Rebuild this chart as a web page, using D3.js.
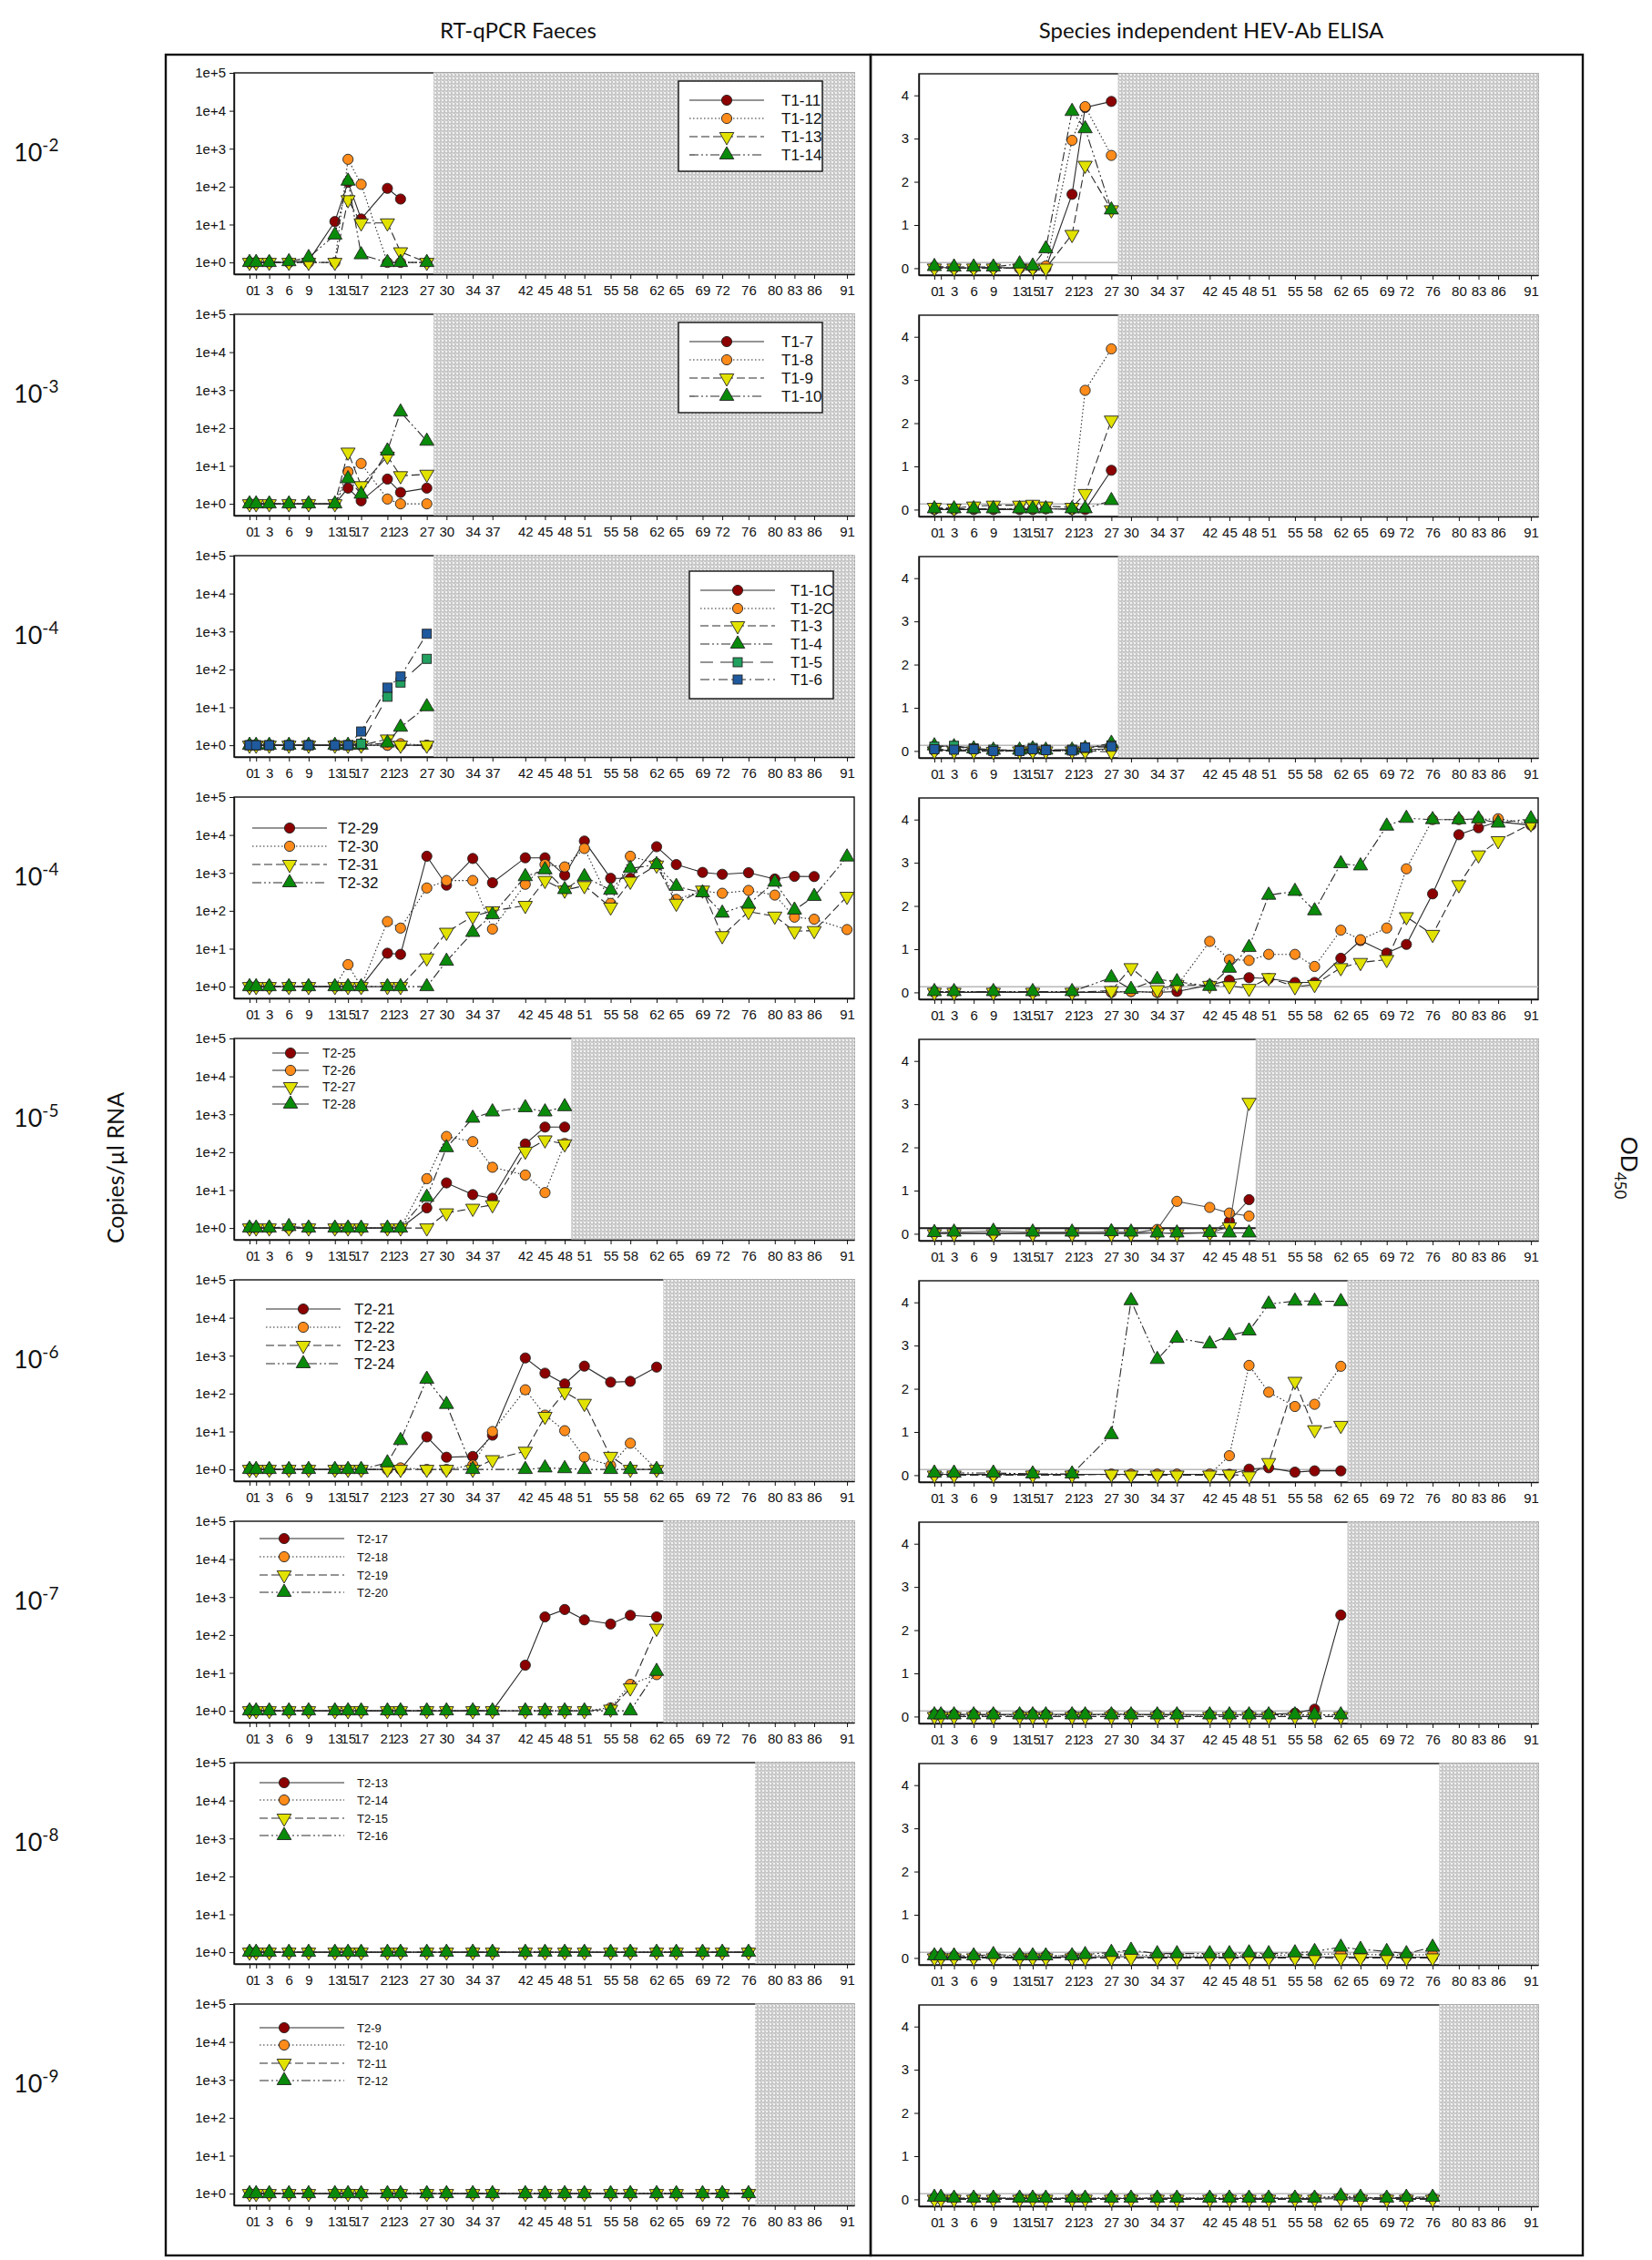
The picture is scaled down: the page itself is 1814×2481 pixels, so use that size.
<!DOCTYPE html>
<html><head><meta charset="utf-8">
<script src="https://cdn.jsdelivr.net/npm/d3@7"></script>
<style>
body{margin:0;background:#fff;}
svg text{fill:#111;}
.ax text{font-family:"Liberation Sans Narrow","Arial Narrow","Liberation Sans",sans-serif;font-size:15px;}
.lg text{font-family:"Liberation Sans Narrow","Arial Narrow","Liberation Sans",sans-serif;}
</style></head><body>
<svg id="c" width="1814" height="2481" xmlns="http://www.w3.org/2000/svg"></svg>
<script>
// ---------------- DATA ----------------
const days = [0,1,3,6,9,13,15,17,21,23,27,30,34,37,42,45,48,51,55,58,62,65,69,72,76,80,83,86,91];
const leftTicks = [1,10,100,1000,10000,100000];
const leftTickLabels = ["1e+0","1e+1","1e+2","1e+3","1e+4","1e+5"];
const rightTicks = [0,1,2,3,4];
const rowDilutions = ["-2","-3","-4","-4","-5","-6","-7","-8","-9"];
const hatchFrom = [28,28,28,null,49,63,63,77,77];

const names1 = ["T1-11","T1-12","T1-13","T1-14"];
const names2 = ["T1-7","T1-8","T1-9","T1-10"];
const names3 = ["T1-1C","T1-2C","T1-3","T1-4","T1-5","T1-6"];
const names4 = ["T2-29","T2-30","T2-31","T2-32"];
const names5 = ["T2-25","T2-26","T2-27","T2-28"];
const names6 = ["T2-21","T2-22","T2-23","T2-24"];
const names7 = ["T2-17","T2-18","T2-19","T2-20"];
const names8 = ["T2-13","T2-14","T2-15","T2-16"];
const names9 = ["T2-9","T2-10","T2-11","T2-12"];

// RT-qPCR copies/µl (values aligned with days; null = no sample)
const pcr1 = [
 [1,1,1,1,1.1,12,130,14,90,47,null],
 [1,1,1,1,1,1,525,115,1,1,1],
 [1,1,1,1,1,1,45,11,11,1.9,1],
 [1,1,1,1.05,1.35,5.3,140,1.6,1,1,1]];
const pcr2 = [
 [1,1,1,1,1,1,2.6,1.2,4.5,2.0,2.6],
 [1,1,1,1,1,1,7,11.6,1.34,1,1],
 [1,1,1,1,1,1,23,3.0,18,5.5,6],
 [1,1,1,1,1,1,4.6,1.8,25,265,45]];
const pcr3 = [
 [1,1,1,1,1,1,1,1,1,1,1],
 [1,1,1,1,1,1,1,1,1,1.1,1],
 [1,1,1,1,1,1,1,1,1.45,1,1],
 [1,1,1,1,1,1,1,1,1.15,3.0,10.4],
 [1,1,1,1,1,1,1,1.1,19,45,190],
 [1,1,1,1,1,1,1,2.3,33,65,870]];
const pcr4 = [
 [1,1,1,1,1,1,1,1,7.6,7.1,2750,475,2400,550,2500,2500,870,6900,720,720,4900,1660,1030,920,1010,690,810,800,null],
 [1,1,1,1,1,1,3.8,1,52,35,400,630,630,33,500,1660,1440,4400,157,2750,1770,200,335,290,345,260,68,60,32],
 [1,1,1,1,1,1,1,1,1,1,5.7,27,72,99,138,630,350,460,125,600,1600,157,350,22,95,72,29,30,240],
 [1,1,1,1,1,1,1,1,1,1,1,4.7,27,79,800,1210,365,800,350,1310,1660,440,300,87,150,570,105,240,2640]];
const pcr5 = [
 [1,1,1,1,1,1,1,1,1,1,3.4,15.5,7.6,6.1,165,460,460],
 [1,1,1,1,1,1,1,1,1,1,20,260,190,40,25,8.6,170],
 [1,1,1,1,1,1,1,1,1,1,1,2.5,3.3,4.1,106,210,165],
 [1,1,1,1.1,1,1,1,1,1,1,6.5,132,790,1160,1500,1160,1590]];
const pcr6 = [
 [1,1,1,1,1,1,1,1,1,1,7.2,2.1,2.2,8,870,345,180,530,200,210,500],
 [1,1,1,1,1,1,1,1,1,1.1,1,1,1.3,10,126,27,10.5,2.1,1.27,4.9,1],
 [1,1,1,1,1,1,1,1,1,1,1,1,1,1.8,3.0,25,110,55,2.2,1,1],
 [1,1,1,1,1,1,1,1,1.5,5.8,240,52,1,null,1,1.1,1.05,1,1,1,1]];
const pcr7 = [
 [1,1,1,1,1,1,1,1,1,1,1,1,1,1,16,300,470,250,195,330,300],
 [1,1,1,1,1,1,1,1,1,1,1,1,1,1,1,1,1,1,1.2,5,9],
 [1,1,1,1,1,1,1,1,1,1,1,1,1,1,1,1,1,1,1.1,4,150],
 [1,1,1,1,1,1,1,1,1,1,1,1,1,1,1,1,1,1,1,1,11]];
const pcr8 = [
 [1,1,1,1,1,1,1,1,1,1,1,1,1,1,1,1,1,1,1,1,1,1,1,1,1],
 [1,1,1,1,1,1,1,1,1,1,1,1,1,1,1,1,1,1,1,1,1,1,1,1,1],
 [1,1,1,1,1,1,1,1,1,1,1,1,1,1,1,1,1,1,1,1,1,1,1,1,1],
 [1,1,1,1,1,1,1,1,1,1,1,1,1,1,1,1,1,1,1,1,1,1,1,1,1]];
const pcr9 = [
 [1,1,1,1,1,1,1,1,1,1,1,1,1,1,1,1,1,1,1,1,1,1,1,1,1],
 [1,1,1,1,1,1,1,1,1,1,1,1,1,1,1,1,1,1,1,1,1,1,1,1,1],
 [1,1,1,1,1,1,1,1,1,1,1,1,1,1,1,1,1,1,1,1,1,1,1,1,1],
 [1,1,1,1,1,1,1,1,1,1,1,1,1,1,1,1,1,1,1,1,1,1,1,1,1]];

// ELISA OD450
const od1 = [
 [0.02,null,0.01,0.01,0.02,0.0,0.0,0.0,1.71,3.72,3.86],
 [0.02,null,0.0,0.0,0.0,0.0,0.0,0.05,2.96,3.74,2.61],
 [0.0,null,0.0,0.0,0.0,0.0,0.0,0.0,0.78,2.38,1.35],
 [0.04,null,0.03,0.03,0.03,0.1,0.05,0.45,3.63,3.23,1.35]];
const od2 = [
 [0.0,null,0.0,0.0,0.0,0.0,0.0,0.02,0.0,0.0,0.91],
 [0.02,null,0.02,0.02,0.02,0.02,0.02,0.02,0.02,2.76,3.72],
 [0.05,null,0.03,0.08,0.1,0.1,0.12,0.08,0.05,0.37,2.07],
 [0.02,null,0.02,0.02,0.02,0.02,0.02,0.02,0.02,0.02,0.21]];
const od3 = [
 [0.02,null,0.02,0.03,0.02,0.01,0.02,0.02,0.02,0.03,0.05],
 [0.01,null,0.01,0.02,0.01,0.01,0.01,0.01,0.01,0.02,0.03],
 [0.0,null,0.0,0.0,-0.01,0.0,0.0,0.0,0.0,0.0,-0.02],
 [0.12,null,0.1,0.05,0.02,0.02,0.05,0.02,0.02,0.06,0.18],
 [0.1,null,0.12,0.06,0.03,0.02,0.07,0.03,0.03,0.08,0.13],
 [0.04,null,0.03,0.04,0.0,0.0,0.04,0.02,0.01,0.08,0.1]];
const od4 = [
 [0.0,null,0.0,null,0.0,null,0.0,null,0.0,null,0.0,0.02,0.0,0.02,0.17,0.28,0.34,0.32,0.23,0.23,0.79,1.2,0.91,1.11,2.28,3.65,3.81,3.95,3.87],
 [0.02,null,0.02,null,0.02,null,0.0,null,0.0,null,0.02,0.02,0.0,0.15,1.18,0.76,0.74,0.88,0.88,0.6,1.44,1.22,1.49,2.86,4.0,4.0,4.0,4.02,3.9],
 [0.0,null,0.0,null,0.0,null,0.0,null,0.0,null,0.04,0.57,0.06,0.18,0.16,0.15,0.09,0.34,0.13,0.18,0.57,0.69,0.76,1.75,1.34,2.49,3.18,3.51,3.9],
 [0.02,null,0.02,null,0.02,null,0.02,null,0.02,null,0.34,0.07,0.3,0.25,0.14,0.56,1.04,2.25,2.34,1.89,2.98,2.93,3.85,4.03,4.0,4.0,4.02,3.92,4.02]];
const od5 = [
 [0.02,null,0.02,null,0.02,null,0.02,null,0.02,null,0.02,0.02,0.02,0.02,0.02,0.29,0.79],
 [0.02,null,0.02,null,0.0,null,0.02,null,0.02,null,0.02,0.02,0.1,0.75,0.61,0.48,0.41],
 [0.0,null,0.0,null,0.0,null,0.0,null,0.0,null,0.0,0.0,0.02,0.0,0.02,0.16,3.04],
 [0.03,null,0.04,null,0.06,null,0.04,null,0.04,null,0.05,0.04,0.02,0.02,0.03,0.02,0.02]];
const od6 = [
 [0.02,null,0.02,null,0.02,null,0.02,null,0.02,null,0.02,0.02,0.02,0.02,0.02,0.02,0.14,0.17,0.07,0.1,0.1],
 [0.02,null,0.02,null,0.0,null,0.02,null,0.02,null,0.02,0.02,0.02,0.02,0.02,0.45,2.54,1.92,1.59,1.64,2.52],
 [0.0,null,0.0,null,0.0,null,0.0,null,0.0,null,0.02,0.0,0.0,0.0,0.0,0.02,-0.02,0.29,2.17,1.05,1.15],
 [0.05,null,0.05,null,0.05,null,0.03,null,0.03,null,0.94,4.04,2.68,3.17,3.04,3.23,3.34,3.96,4.03,4.03,4.02]];
const od7 = [
 [0.05,0.05,0.05,0.05,0.05,0.05,0.05,0.05,0.05,0.05,0.05,0.05,0.05,0.05,0.04,0.04,0.05,0.05,0.08,0.17,2.35],
 [0.03,0.03,0.03,0.02,0.03,0.03,0.03,0.03,0.03,0.03,0.06,0.05,0.03,0.03,0.03,0.03,0.03,0.03,0.03,0.03,0.03],
 [0.0,0.0,0.0,0.0,0.0,0.0,0.0,0.0,0.0,0.0,0.0,0.0,0.0,0.0,0.0,0.0,0.0,0.0,0.0,0.0,0.0],
 [0.04,0.04,0.04,0.04,0.04,0.04,0.04,0.04,0.04,0.04,0.04,0.04,0.04,0.04,0.04,0.04,0.04,0.04,0.04,0.04,0.04]];
const od8 = [
 [0.02,0.02,0.02,0.02,0.02,0.02,0.02,0.02,0.02,0.02,0.03,0.03,0.02,0.02,0.02,0.02,0.02,0.02,0.02,0.02,0.03,0.02,0.02,0.02,0.02],
 [0.05,0.05,0.04,0.04,0.05,0.04,0.04,0.05,0.05,0.05,0.06,0.08,0.05,0.05,0.05,0.06,0.05,0.06,0.07,0.08,0.1,0.08,0.07,0.06,0.08],
 [0.0,0.0,0.0,0.0,0.0,0.0,0.0,0.0,0.0,0.0,0.0,0.0,0.0,0.0,0.0,0.0,0.0,0.0,0.0,0.0,0.0,0.0,0.0,0.0,0.0],
 [0.05,0.05,0.05,0.05,0.08,0.05,0.05,0.05,0.05,0.08,0.13,0.18,0.1,0.1,0.1,0.1,0.12,0.1,0.12,0.15,0.25,0.2,0.15,0.1,0.25]];
const od9 = [
 [0.02,0.02,0.02,0.02,0.02,0.02,0.02,0.02,0.02,0.02,0.02,0.02,0.02,0.02,0.02,0.02,0.02,0.02,0.02,0.02,0.04,0.03,0.02,0.02,0.02],
 [0.03,0.03,0.03,0.03,0.03,0.03,0.03,0.03,0.03,0.03,0.03,0.03,0.03,0.03,0.03,0.03,0.03,0.03,0.03,0.04,0.06,0.04,0.03,0.04,0.04],
 [0.0,0.0,0.0,0.0,0.0,0.0,0.0,0.0,0.0,0.0,0.0,0.0,0.0,0.0,0.0,0.0,0.0,0.0,0.0,0.0,0.02,0.0,0.0,0.0,0.0],
 [0.05,0.05,0.03,0.03,0.03,0.03,0.03,0.03,0.03,0.03,0.03,0.03,0.03,0.03,0.03,0.03,0.03,0.03,0.03,0.03,0.08,0.05,0.03,0.05,0.05]];

const rowNames = [names1,names2,names3,names4,names5,names6,names7,names8,names9];
const rowPcr = [pcr1,pcr2,pcr3,pcr4,pcr5,pcr6,pcr7,pcr8,pcr9];
const rowOd = [od1,od2,od3,od4,od5,od6,od7,od8,od9];

// ---------------- STYLE / LAYOUT ----------------
const fills = ["#8b0000","#ff8c1a","#e2e200","#0a8a0a","#22a060","#1f5a9e"];
const symbols = ["circle","circle","down","up","square","square"];
const dashes = [null,"1.5,2.5","9,4","10,3,2,3,2,3","14,8","10,4,2,4"];
const CUT = 0.13;

const svg = d3.select("#c");
const defs = svg.append("defs");
const pat = defs.append("pattern").attr("id","hatch").attr("width",4).attr("height",4).attr("patternUnits","userSpaceOnUse");
pat.append("rect").attr("width",4).attr("height",4).attr("fill","#c4c4c4");
pat.append("circle").attr("cx",2).attr("cy",2).attr("r",1.25).attr("fill","#f2f2f2");
pat.append("rect").attr("x",0).attr("y",0).attr("width",1).attr("height",1).attr("fill","#e6e6e6");

const rowTop = i => 80 + 265*i;
const LX = [257, 938], RX = [1009, 1689];
const xDom = [-2.36, 92.1];

// legend layouts (x of line start/end, marker, text; y offsets; font; boxed)
const legendLayout = [
 {box:[745,9,903,108], x1:757,x2:839,xm:798,xt:858, ys:[30,50,70,90], fs:17},
 {box:[745,9,903,108], x1:757,x2:839,xm:798,xt:858, ys:[30,50,70,90], fs:17},
 {box:[757,17,915,157], x1:769,x2:851,xm:810,xt:868, ys:[38,58,77,97,117,136], fs:17},
 {box:null, x1:277,x2:359,xm:318,xt:371, ys:[34,54,74,94], fs:17},
 {box:null, x1:299,x2:339,xm:319,xt:354, ys:[16,35,53,72], fs:14, solid:true},
 {box:null, x1:292,x2:374,xm:333,xt:389, ys:[32,52,72,92], fs:17},
 {box:null, x1:285,x2:378,xm:312,xt:392, ys:[19,39,59,78], fs:13},
 {box:null, x1:285,x2:378,xm:312,xt:392, ys:[22,41,61,80], fs:13},
 {box:null, x1:285,x2:378,xm:312,xt:392, ys:[26,45,65,84], fs:13}
];

function marker(g, kind, fill, x, y){
  if(kind==="circle"){
    g.append("circle").attr("cx",x).attr("cy",y).attr("r",5.6).attr("fill",fill).attr("stroke","#222").attr("stroke-width",0.9);
  } else if(kind==="square"){
    g.append("rect").attr("x",x-5).attr("y",y-5).attr("width",10).attr("height",10).attr("fill",fill).attr("stroke","#222").attr("stroke-width",0.9);
  } else {
    const p = d3.symbol().type(d3.symbolTriangle).size(105)();
    g.append("path").attr("d",p).attr("transform",`translate(${x},${y})${kind==="down"?" rotate(180)":""}`)
     .attr("fill",fill).attr("stroke","#222").attr("stroke-width",0.9);
  }
}

function drawPanel(row, side){
  const T = rowTop(row);
  const isL = side==="L";
  const xr = isL ? LX : RX;
  const x = d3.scaleLinear().domain(xDom).range(xr);
  const y = isL ? d3.scaleLog().domain([0.49,1e5]).range([T+221, T])
                : d3.scaleLinear().domain([-0.16,4.5]).range([T+222, T+1]);
  const yTop = y.range()[1], yBot = y.range()[0];
  const g = svg.append("g");
  g.append("rect").attr("x",xr[0]).attr("y",yTop).attr("width",xr[1]-xr[0]).attr("height",yBot-yTop)
   .attr("fill","#fff").attr("stroke","#111").attr("stroke-width",1.4);
  const hf = hatchFrom[row];
  const xEnd = hf==null ? xr[1] : x(hf);
  if(hf!=null){
    g.append("rect").attr("x",x(hf)).attr("y",yTop-0.7).attr("width",xr[1]-x(hf)+0.7).attr("height",yBot-yTop+0.7)
     .attr("fill","url(#hatch)");
  }
  if(!isL){
    g.append("line").attr("x1",xr[0]).attr("x2",xEnd).attr("y1",y(CUT)).attr("y2",y(CUT))
     .attr("stroke", row===4 ? "#1a1a1a" : "#b8b8b8").attr("stroke-width", row===4 ? 2.2 : 1.6);
  }
  const ax = g.append("g").attr("class","ax").attr("transform",`translate(0,${yBot})`)
    .call(d3.axisBottom(x).tickValues(days).tickFormat(d=>String(d)).tickSize(5).tickSizeOuter(0).tickPadding(7));
  const ay = g.append("g").attr("class","ax").attr("transform",`translate(${xr[0]},0)`)
    .call(isL ? d3.axisLeft(y).tickValues(leftTicks).tickFormat((d,i)=>leftTickLabels[i]).tickSize(5).tickSizeOuter(0).tickPadding(4)
              : d3.axisLeft(y).tickValues(rightTicks).tickFormat(d=>String(d)).tickSize(5).tickSizeOuter(0).tickPadding(6));
  [ax,ay].forEach(a=>{a.selectAll("path.domain").attr("stroke","#111").attr("stroke-width",1.4);
    a.selectAll(".tick line").attr("stroke","#111");});
  ax.selectAll(".tick text").attr("font-size",15);
  ay.selectAll(".tick text").attr("font-size", isL?15:17);

  const data = isL ? rowPcr[row] : rowOd[row];
  data.forEach((ser, si)=>{
    const pts = [];
    ser.forEach((v,i)=>{ if(v!=null) pts.push([days[i], v]); });
    const dash = (row===4 && !isL) ? null : dashes[si];
    const line = d3.line().x(d=>x(d[0])).y(d=>y(d[1]));
    g.append("path").attr("d",line(pts)).attr("fill","none")
      .attr("stroke", (row===4 && !isL) ? "#555" : "#2a2a2a").attr("stroke-width",1.1)
      .attr("stroke-dasharray",dash);
    pts.forEach(p=>marker(g, symbols[si], fills[si], x(p[0]), y(p[1])));
  });

  if(isL){
    const L = legendLayout[row];
    const lg = g.append("g").attr("class","lg");
    if(L.box){
      lg.append("rect").attr("x",L.box[0]).attr("y",T+L.box[1]).attr("width",L.box[2]-L.box[0]).attr("height",L.box[3]-L.box[1])
        .attr("fill","#fff").attr("stroke","#111").attr("stroke-width",1.4);
    }
    rowNames[row].forEach((nm,si)=>{
      const yy = T + L.ys[si];
      lg.append("line").attr("x1",L.x1).attr("x2",L.x2).attr("y1",yy).attr("y2",yy)
        .attr("stroke","#2a2a2a").attr("stroke-width",1.2).attr("stroke-dasharray", L.solid?null:dashes[si]);
      marker(lg, symbols[si], fills[si], L.xm, yy);
      lg.append("text").attr("x",L.xt).attr("y",yy).attr("dy","0.35em").attr("font-size",L.fs).text(nm);
    });
  }
}

for(let r=0;r<9;r++){ drawPanel(r,"L"); drawPanel(r,"R"); }

svg.append("rect").attr("x",182).attr("y",60).attr("width",774).attr("height",2416).attr("fill","none").attr("stroke","#111").attr("stroke-width",2.4);
svg.append("rect").attr("x",956).attr("y",60).attr("width",782).attr("height",2416).attr("fill","none").attr("stroke","#111").attr("stroke-width",2.4);

const tf = "Lato, 'Open Sans', sans-serif";
svg.append("text").attr("x",569).attr("y",42).attr("text-anchor","middle").attr("font-family",tf).attr("font-size",24).text("RT-qPCR Faeces");
svg.append("text").attr("x",1330).attr("y",42).attr("text-anchor","middle").attr("font-family",tf).attr("font-size",24).text("Species independent HEV-Ab ELISA");

rowDilutions.forEach((d,i)=>{
  const t = svg.append("text").attr("x",15).attr("y",rowTop(i)+97).attr("font-family",tf).attr("font-size",27);
  t.append("tspan").text("10");
  t.append("tspan").attr("dy",-11).attr("font-size",19).text(d);
});

svg.append("text").attr("transform","translate(136,1282) rotate(-90)").attr("text-anchor","middle")
  .attr("font-family",tf).attr("font-size",25).text("Copies/µl RNA");
const od = svg.append("text").attr("transform","translate(1780,1282) rotate(90)").attr("text-anchor","middle")
  .attr("font-family",tf).attr("font-size",25);
od.append("tspan").text("OD");
od.append("tspan").attr("dy",7).attr("font-size",17).text("450");
</script>
</body></html>
